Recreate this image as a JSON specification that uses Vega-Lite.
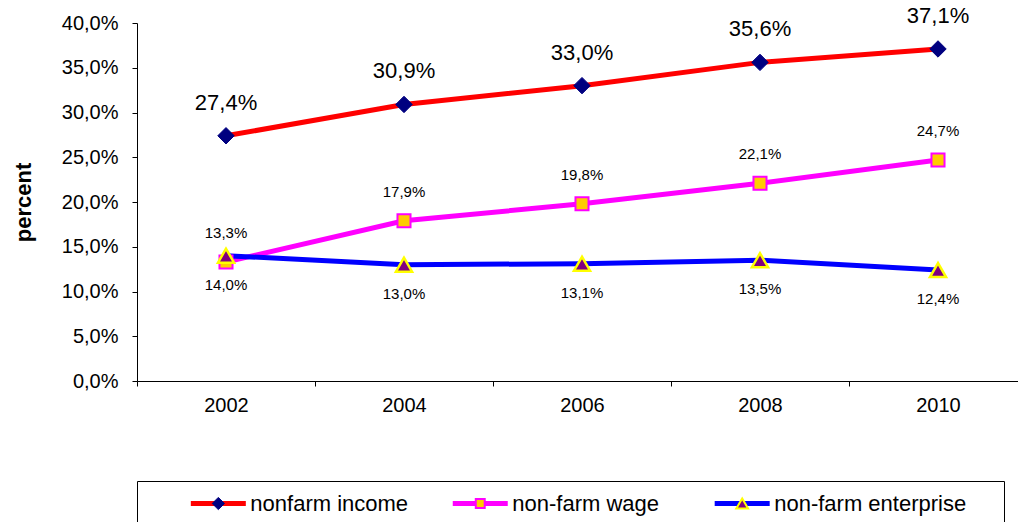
{
  "$schema": "https://vega.github.io/schema/vega-lite/v6.json",
  "background": "white",
  "padding": {"left": 12, "top": 4, "right": 0, "bottom": 0},
  "config": {
    "view": {"stroke": null},
    "font": "Liberation Sans",
    "axis": {"domainColor": "black", "tickColor": "black", "labelColor": "black", "titleColor": "black", "grid": false, "labelFont": "Liberation Sans", "titleFont": "Liberation Sans"},
    "text": {"font": "Liberation Sans", "color": "black"}
  },
  "datasets": {
    "rows": [
      {"year": 2002, "series": "nonfarm income", "v": 27.4},
      {"year": 2004, "series": "nonfarm income", "v": 30.9},
      {"year": 2006, "series": "nonfarm income", "v": 33.0},
      {"year": 2008, "series": "nonfarm income", "v": 35.6},
      {"year": 2010, "series": "nonfarm income", "v": 37.1},
      {"year": 2002, "series": "non-farm wage", "v": 13.3},
      {"year": 2004, "series": "non-farm wage", "v": 17.9},
      {"year": 2006, "series": "non-farm wage", "v": 19.8},
      {"year": 2008, "series": "non-farm wage", "v": 22.1},
      {"year": 2010, "series": "non-farm wage", "v": 24.7},
      {"year": 2002, "series": "non-farm enterprise", "v": 14.0},
      {"year": 2004, "series": "non-farm enterprise", "v": 13.0},
      {"year": 2006, "series": "non-farm enterprise", "v": 13.1},
      {"year": 2008, "series": "non-farm enterprise", "v": 13.5},
      {"year": 2010, "series": "non-farm enterprise", "v": 12.4}
    ],
    "series": [
      {"series": "nonfarm income"},
      {"series": "non-farm wage"},
      {"series": "non-farm enterprise"}
    ]
  },
  "spacing": 65,
  "resolve": {"scale": {"x": "independent", "y": "independent"}},
  "vconcat": [
    {
      "width": 890,
      "height": 358,
      "data": {"name": "rows"},
      "transform": [
        {"calculate": "replace(format(datum.v, '.1f'), '.', ',') + '%'", "as": "label"}
      ],
      "encoding": {
        "x": {
          "field": "year", "type": "ordinal",
          "scale": {"type": "band", "paddingInner": 0, "paddingOuter": 0},
          "axis": {"title": null, "tickBand": "extent", "labelAngle": 0, "labelFontSize": 20, "tickSize": 5, "labelPadding": 9}
        },
        "y": {
          "field": "v", "type": "quantitative",
          "scale": {"domain": [0, 40], "nice": false},
          "axis": {
            "title": "percent", "values": [0, 5, 10, 15, 20, 25, 30, 35, 40],
            "labelExpr": "replace(format(datum.value, '.1f'), '.', ',') + '%'",
            "labelFontSize": 20, "tickSize": 5, "labelPadding": 14,
            "titleFontSize": 22, "titleFontWeight": "bold", "titlePadding": 26
          }
        }
      },
      "layer": [
        {
          "mark": {"type": "line", "strokeWidth": 5},
          "encoding": {
            "color": {
              "field": "series", "type": "nominal",
              "scale": {"domain": ["nonfarm income", "non-farm wage", "non-farm enterprise"], "range": ["#FF0000", "#FF00FF", "#0000FF"]},
              "legend": null
            }
          }
        },
        {
          "transform": [{"filter": "datum.series == 'nonfarm income'"}],
          "mark": {"type": "point", "shape": "diamond", "filled": true, "opacity": 1, "fill": "#000080", "stroke": "#000080", "strokeWidth": 1, "size": 270}
        },
        {
          "transform": [{"filter": "datum.series == 'non-farm wage'"}],
          "mark": {"type": "point", "shape": "square", "filled": true, "opacity": 1, "fill": "#FFCC00", "stroke": "#FF00FF", "strokeWidth": 2, "size": 170}
        },
        {
          "transform": [{"filter": "datum.series == 'non-farm enterprise'"}],
          "mark": {"type": "point", "shape": "triangle-up", "filled": true, "opacity": 1, "fill": "#800080", "stroke": "#FFFF00", "strokeWidth": 2.5, "size": 260}
        },
        {
          "transform": [{"filter": "datum.series == 'nonfarm income'"}],
          "mark": {"type": "text", "fontSize": 22, "dy": -33, "baseline": "middle"},
          "encoding": {"text": {"field": "label"}}
        },
        {
          "transform": [{"filter": "datum.series == 'non-farm wage'"}],
          "mark": {"type": "text", "fontSize": 15, "dy": -29, "baseline": "middle"},
          "encoding": {"text": {"field": "label"}}
        },
        {
          "transform": [{"filter": "datum.series == 'non-farm enterprise'"}],
          "mark": {"type": "text", "fontSize": 15, "dy": 29, "baseline": "middle"},
          "encoding": {"text": {"field": "label"}}
        }
      ]
    },
    {
      "width": 867,
      "height": 45,
      "view": {"stroke": "black", "strokeWidth": 1},
      "data": {"name": "series"},
      "encoding": {
        "x": {
          "field": "series", "type": "nominal",
          "scale": {"type": "point", "domain": ["nonfarm income", "non-farm wage", "non-farm enterprise"], "padding": 0.655, "align": 0.237},
          "axis": null
        }
      },
      "layer": [
        {
          "mark": {"type": "point", "shape": "stroke", "size": 3025, "strokeWidth": 5, "filled": false, "opacity": 1},
          "encoding": {
            "stroke": {"field": "series", "type": "nominal", "scale": {"domain": ["nonfarm income", "non-farm wage", "non-farm enterprise"], "range": ["#FF0000", "#FF00FF", "#0000FF"]}, "legend": null}
          }
        },
        {
          "transform": [{"filter": "datum.series == 'nonfarm income'"}],
          "mark": {"type": "point", "shape": "diamond", "filled": true, "opacity": 1, "fill": "#000080", "stroke": "#000080", "strokeWidth": 1, "size": 150}
        },
        {
          "transform": [{"filter": "datum.series == 'non-farm wage'"}],
          "mark": {"type": "point", "shape": "square", "filled": true, "opacity": 1, "fill": "#FFCC00", "stroke": "#FF00FF", "strokeWidth": 2, "size": 80}
        },
        {
          "transform": [{"filter": "datum.series == 'non-farm enterprise'"}],
          "mark": {"type": "point", "shape": "triangle-up", "filled": true, "opacity": 1, "fill": "#800080", "stroke": "#FFFF00", "strokeWidth": 2, "size": 140}
        },
        {
          "mark": {"type": "text", "fontSize": 22, "dx": 32, "align": "left", "baseline": "middle"},
          "encoding": {"text": {"field": "series"}}
        }
      ]
    }
  ]
}
